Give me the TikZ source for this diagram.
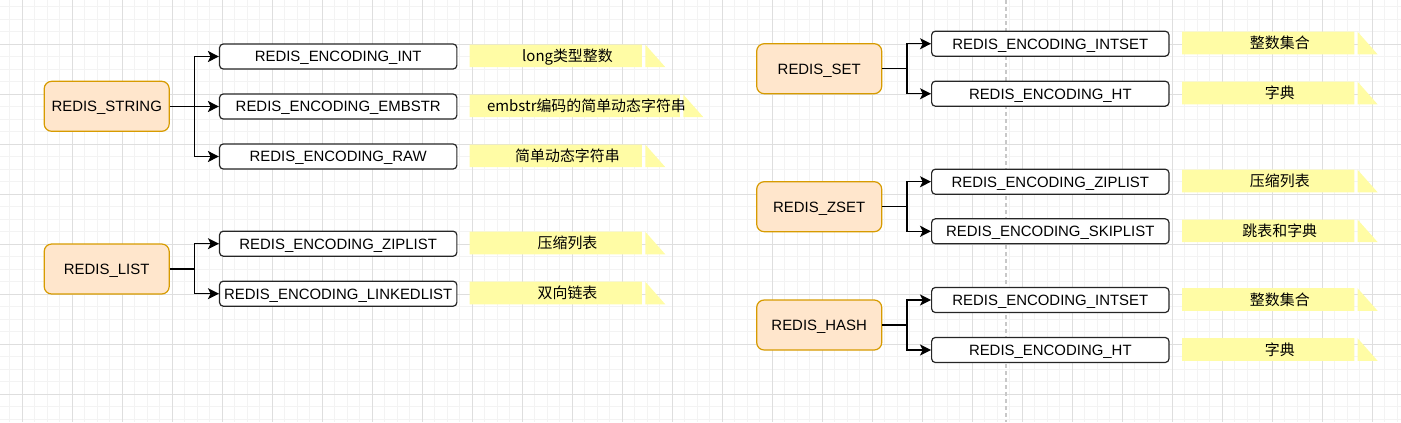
\documentclass[tikz,border=0pt]{standalone}
\usepackage{fontspec}
\setmainfont{Liberation Sans}
\newfontfamily\cjk{Noto Sans CJK SC}
\usepackage{tikz}
\usetikzlibrary{arrows.meta}

\definecolor{typefill}{RGB}{255,230,204}
\definecolor{typeline}{RGB}{215,155,0}
\definecolor{notefill}{RGB}{255,252,165}
\definecolor{gridminor}{RGB}{243,243,243}
\definecolor{gridmajor}{RGB}{222,222,222}
\definecolor{guide}{RGB}{200,200,200}

\begin{document}
\begin{tikzpicture}[x=0.75pt,y=0.75pt,yscale=-1,xscale=1,
    minorgrid/.style={draw=gridminor,line width=0.75pt},
    majorgrid/.style={draw=gridmajor,line width=0.75pt},
    guideline/.style={draw=guide,line width=1.1pt,dash pattern=on 3pt off 2.25pt},
    typebox/.style={draw=typeline,fill=typefill,line width=0.9pt,rounded corners=5.6pt,minimum width=93.75pt,minimum height=37.5pt,inner sep=0pt,text height=9pt,text depth=1pt,font=\fontsize{11.2}{13.4}\selectfont},
    encbox/.style={draw=black!85,fill=white,line width=0.9pt,rounded corners=2.8pt,minimum width=178pt,minimum height=18.75pt,inner sep=0pt,text height=9pt,text depth=1pt,font=\fontsize{11.2}{13.4}\selectfont},
    notebg/.style={fill=notefill},
    note/.style={minimum width=146.25pt,minimum height=16.5pt,inner sep=0pt,text height=9.2pt,text depth=0.8pt,font=\cjk\fontsize{11.2}{13.4}\selectfont,
      append after command={(\tikzlastnode.north west) rectangle ([xshift=-17.5pt]\tikzlastnode.south east)
        ([xshift=-15pt]\tikzlastnode.north east) -- ([xshift=-15pt]\tikzlastnode.south east) -- (\tikzlastnode.south east) -- cycle}},
    widenote/.style={note,minimum width=174.75pt},
    link/.style={line width=1.1pt,-{Stealth[length=8.25pt,width=8.25pt,inset=2pt]}}
  ]
  \useasboundingbox (0,0) rectangle (1401,422);

  %Grid
  \foreach \i in {0,...,111} \draw[minorgrid] ({9.8+12.5*\i},0) -- ({9.8+12.5*\i},422);
  \foreach \i in {0,...,33} \draw[minorgrid] (0,{6.8+12.5*\i}) -- (1401,{6.8+12.5*\i});
  \foreach \i in {0,...,27} \draw[majorgrid] ({22.3+50*\i},0) -- ({22.3+50*\i},422);
  \foreach \i in {0,...,7} \draw[majorgrid] (0,{44.3+50*\i}) -- (1401,{44.3+50*\i});
  %Dashed Line
  \draw[guideline] (1006,0) -- (1006,422);

  %Rounded Rect
  \node[typebox] (string) at (106.7,106.3) {REDIS\_STRING};
  \node[typebox] (list) at (106.7,269) {REDIS\_LIST};
  \node[typebox] (set) at (819.2,68.7) {REDIS\_SET};
  \node[typebox] (zset) at (819.2,206.7) {REDIS\_ZSET};
  \node[typebox] (hash) at (819.2,325) {REDIS\_HASH};

  %Rounded Rect
  \node[encbox] (strint) at (338.2,56.5) {REDIS\_ENCODING\_INT};
  \node[encbox] (strembstr) at (338.2,106.5) {REDIS\_ENCODING\_EMBSTR};
  \node[encbox] (strraw) at (338.2,156.5) {REDIS\_ENCODING\_RAW};
  \node[encbox] (listzip) at (338.2,243.7) {REDIS\_ENCODING\_ZIPLIST};
  \node[encbox] (listlinked) at (338.2,293.7) {REDIS\_ENCODING\_LINKEDLIST};
  \node[encbox] (setint) at (1050.3,43.7) {REDIS\_ENCODING\_INTSET};
  \node[encbox] (setht) at (1050.3,93.7) {REDIS\_ENCODING\_HT};
  \node[encbox] (zsetzip) at (1050.3,181.7) {REDIS\_ENCODING\_ZIPLIST};
  \node[encbox] (zsetskip) at (1050.3,231.3) {REDIS\_ENCODING\_SKIPLIST};
  \node[encbox] (hashint) at (1050.3,300) {REDIS\_ENCODING\_INTSET};
  \node[encbox] (hashht) at (1050.3,350) {REDIS\_ENCODING\_HT};

  %Straight Lines
  \draw[link] (string.east) -- ++(24.5,0) |- (strint.west);
  \draw[link] (string.east) -- ++(24.5,0) |- (strembstr.west);
  \draw[link] (string.east) -- ++(24.5,0) |- (strraw.west);
  \draw[link] (list.east) -- ++(24.5,0) |- (listzip.west);
  \draw[link] (list.east) -- ++(24.5,0) |- (listlinked.west);
  \draw[link] (set.east) -- ++(24.5,0) |- (setint.west);
  \draw[link] (set.east) -- ++(24.5,0) |- (setht.west);
  \draw[link] (zset.east) -- ++(24.5,0) |- (zsetzip.west);
  \draw[link] (zset.east) -- ++(24.5,0) |- (zsetskip.west);
  \draw[link] (hash.east) -- ++(24.5,0) |- (hashint.west);
  \draw[link] (hash.east) -- ++(24.5,0) |- (hashht.west);

  %Notes
  \path[notebg] node[note] (strintnote) at (567.5,55.8) {long类型整数};
  \path[notebg] node[widenote] (strembstrnote) at (586.5,105.8) {embstr编码的简单动态字符串};
  \path[notebg] node[note] (strrawnote) at (567.5,155.8) {简单动态字符串};
  \path[notebg] node[note] (listzipnote) at (567.5,243) {压缩列表};
  \path[notebg] node[note] (listlinkednote) at (567.5,293) {双向链表};
  \path[notebg] node[note] (setintnote) at (1279.8,43) {整数集合};
  \path[notebg] node[note] (sethtnote) at (1279.8,93) {字典};
  \path[notebg] node[note] (zsetzipnote) at (1279.8,181) {压缩列表};
  \path[notebg] node[note] (zsetskipnote) at (1279.8,230.8) {跳表和字典};
  \path[notebg] node[note] (hashintnote) at (1279.8,299.5) {整数集合};
  \path[notebg] node[note] (hashhtnote) at (1279.8,349.5) {字典};

\end{tikzpicture}
\end{document}
